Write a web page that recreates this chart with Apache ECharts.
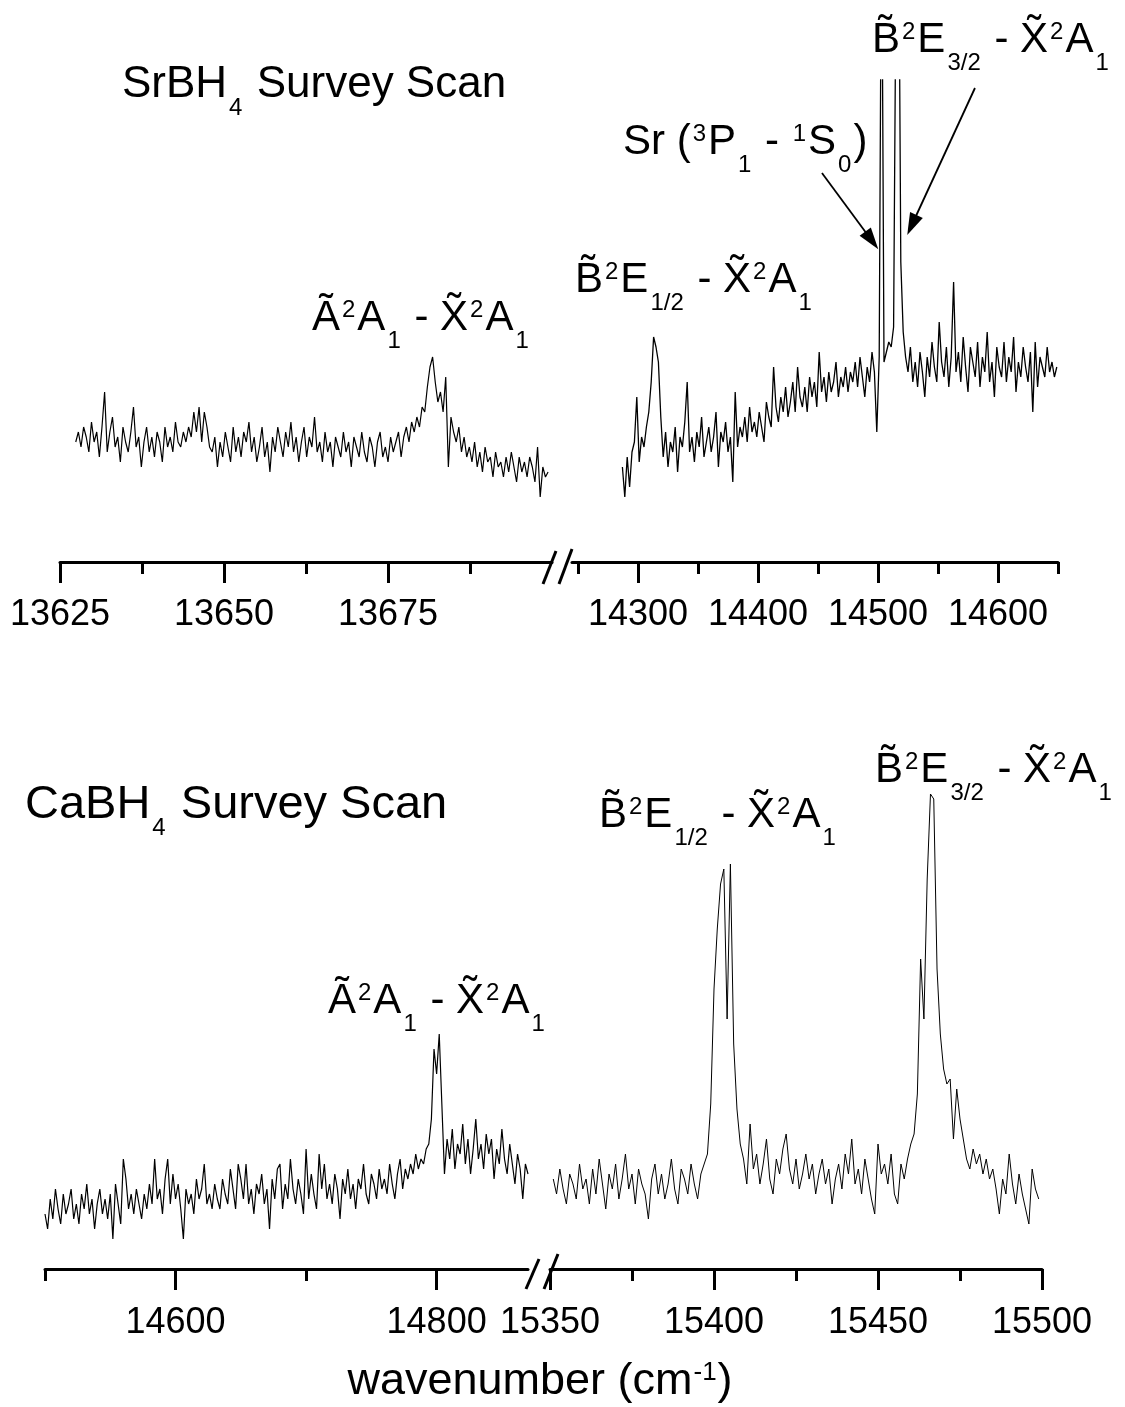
<!DOCTYPE html>
<html>
<head>
<meta charset="utf-8">
<title>SrBH4 and CaBH4 survey scans</title>
<script src="https://cdn.jsdelivr.net/npm/echarts@6/dist/echarts.min.js"></script>
<style>
  html, body { margin: 0; padding: 0; background: #fff; }
  #main { width: 1125px; height: 1407px; }
</style>
</head>
<body>
<div id="main"></div>
<script>
const FONT = "'Liberation Sans', Arial, Helvetica, sans-serif";

// SrBH4 survey, low segment (A - X band), scan start/step in cm-1
const srLowStart = 13627.4, srLowStep = 0.4;
const srLowValues = [
  24, 26, 23, 27, 25, 22, 28, 24, 26, 21,
  27, 34, 22, 26, 29, 23, 25, 20, 27, 24,
  22, 26, 31, 23, 25, 19, 24, 27, 22, 25,
  21, 26, 24, 20, 27, 23, 25, 22, 28, 24,
  23, 26, 24, 27, 25, 30, 26, 31, 24, 30,
  27, 23, 22, 25, 19, 24, 21, 26, 23, 20,
  27, 22, 25, 21, 26, 24, 28, 22, 25, 20,
  23, 27, 21, 24, 18, 25, 22, 27, 24, 21,
  26, 23, 28, 22, 25, 20, 24, 27, 21, 25,
  23, 29, 22, 24, 20, 26, 22, 24, 19, 25,
  23, 21, 26, 22, 24, 19, 25, 23, 21, 26,
  22, 20, 25, 23, 19, 24, 26, 21, 23, 20,
  25, 22, 24, 26, 21, 25, 27, 24, 28, 26,
  29, 27, 31, 30, 35, 39, 41, 36, 32, 34,
  30, 37, 19, 29, 26, 24, 27, 22, 25, 21,
  23, 20, 24, 19, 22, 18, 23, 20, 21, 17,
  22, 19, 20, 17, 21, 18, 22, 19, 16, 21,
  18, 20, 17, 21, 19, 16, 23, 13, 19, 17,
  18
];

// SrBH4 survey, high segment (B - X bands + Sr atomic line)
const srHighStart = 14287, srHighStep = 2;
const srHighValues = [
  19, 13, 21, 15, 22,
  24, 33, 20, 25, 23, 27, 30,
  36, 45, 43, 40, 29,
  21, 26, 19, 24, 22, 27, 18, 25, 23,
  28, 36, 22, 25, 20, 26, 23, 29, 21, 24,
  27, 22, 25, 30, 19, 26, 24, 28, 22, 25,
  16, 34, 23, 27, 25, 29, 24, 31, 26, 28,
  25, 30, 27, 24, 32, 29, 27, 39, 31, 28,
  33, 30, 35, 29, 32, 36, 30, 39, 33, 31,
  35, 30, 37, 33, 36, 31, 42, 34, 37, 32,
  38, 34, 36, 40, 33, 37, 35, 39, 34, 38,
  36, 40, 35, 41, 37, 33, 39, 36, 42, 38,
  26, 41, 135, 40, 42, 44, 43, 47, 118, 140, 60, 46, 41,
  38, 43, 36, 40, 35, 42, 38, 33, 41, 37,
  44, 39, 36, 48, 40, 37, 43, 35, 41, 56,
  38, 42, 36, 45, 39, 34, 43, 40, 37, 44,
  35, 41, 38, 46, 36, 40, 33, 43, 39, 37,
  44, 36, 41, 38, 45, 34, 40, 37, 43, 39,
  36, 42, 30, 44, 35, 41, 39, 37, 43, 38,
  40, 37, 39
];

// CaBH4 survey, low segment (A - X band)
const caLowStart = 14500, caLowStep = 2;
const caLowValues = [
  11, 8, 14, 10, 16, 12, 9, 15, 11, 13,
  16, 10, 13, 9, 15, 12, 17, 11, 14, 8,
  13, 16, 11, 14, 10, 15, 6, 17, 13, 9,
  22, 18, 12, 15, 11, 16, 13, 10, 15, 12,
  17, 13, 22, 14, 16, 11, 18, 22, 13, 19,
  14, 17, 12, 6, 16, 13, 15, 11, 18, 14,
  16, 21, 13, 15, 12, 17, 14, 12, 18, 15,
  13, 20, 16, 12, 21, 18, 14, 21, 13, 16,
  11, 17, 15, 19, 13, 16, 8, 18, 14, 20,
  21, 12, 17, 14, 22, 16, 13, 18, 15, 11,
  24, 14, 19, 15, 12, 23, 16, 21, 14, 17,
  13, 19, 16, 10, 18, 15, 20, 14, 17, 12,
  18, 16, 21, 15, 13, 19, 17, 14, 20, 16,
  18, 15, 21, 17, 14, 19, 22, 16, 20, 18,
  21, 19, 23, 20, 22, 21, 24, 25, 30, 44,
  39, 47, 33, 19, 26, 22, 28, 20, 25, 23,
  29, 21, 26, 19, 24, 30, 22, 25, 20, 27,
  23, 26, 18, 24, 21, 28, 22, 19, 25, 21,
  17, 23, 20, 14, 21, 19
];

// CaBH4 survey, high segment (B - X bands)
const caHighStart = 15351, caHighStep = 1;
const caHighValues = [
  18, 15, 20, 16, 13, 19, 17, 14, 21, 16,
  18, 13, 20, 15, 22, 17, 12, 19, 16, 21,
  14, 18, 23, 16, 19, 13, 20, 17, 15, 10,
  18, 21, 15, 19, 14, 17, 22, 16, 13, 20,
  18, 15, 21, 17, 14, 19,
  21, 23, 33, 56, 68, 77, 80, 50, 81, 45, 32, 25, 22, 17, 29,
  20, 23, 17, 21, 26, 18, 15, 22, 19, 24,
  27, 20, 17, 22, 16, 19, 23, 18, 21, 15,
  19, 22, 17, 20, 13, 18, 21, 16, 23, 19,
  26, 17, 20, 15, 22, 18, 14, 11, 25, 19,
  21, 17, 23, 15, 13, 21, 18,
  22, 25, 27, 35, 62, 50, 78, 95, 94, 60, 47, 40, 37, 38, 26, 36, 30, 26, 22, 20,
  24, 21, 23, 19, 22, 18, 20, 16, 11, 18,
  15, 23, 17, 13, 19, 15, 12, 9, 20, 16, 14
];

// tick positions of each axis segment
const srLowMajor = [13625, 13650, 13675];
const srLowMinor = [13637.5, 13662.5, 13687.5];
const srHighMajor = [14300, 14400, 14500, 14600];
const srHighMinor = [14250, 14350, 14450, 14550, 14650];
const caLowMajor = [14600, 14800];
const caLowMinor = [14500, 14700];
const caHighMajor = [15350, 15400, 15450, 15500];
const caHighMinor = [15375, 15425, 15475];

// arrows in the SrBH4 panel: [from, to] in (cm-1, intensity)
const srArrows = [
  [[14453.3, 77.8], [14494.8, 64.3]],
  [[14580.8, 94.8], [14528.2, 67.4]]
];

const toPairs = (start, step, vals) =>
  vals.map((v, i) => [+(start + i * step).toFixed(2), v]);

function mainAxis(grid, min, max, ticks, margin) {
  return {
    type: 'value', gridIndex: grid, min: min, max: max, position: 'bottom',
    axisLine: { onZero: false, lineStyle: { color: '#000', width: 3 } },
    axisTick: { customValues: ticks, length: 21, lineStyle: { color: '#000', width: 3 } },
    axisLabel: {
      customValues: ticks, margin: margin, fontSize: 36, fontFamily: FONT, color: '#000',
      showMinLabel: true, showMaxLabel: true,
      formatter: v => String(v)
    },
    splitLine: { show: false }
  };
}

function minorAxis(grid, min, max, ticks) {
  return {
    type: 'value', gridIndex: grid, min: min, max: max, position: 'bottom',
    axisLine: { show: false, onZero: false },
    axisTick: { customValues: ticks, length: 12, lineStyle: { color: '#000', width: 3 } },
    axisLabel: { show: false },
    splitLine: { show: false }
  };
}

function yAx(grid, max) {
  return { type: 'value', gridIndex: grid, min: 0, max: max, show: false };
}

function trace(xi, yi, data, width, extra) {
  return Object.assign({
    type: 'line', xAxisIndex: xi, yAxisIndex: yi, data: data,
    showSymbol: false, symbol: 'none', silent: true, clip: true,
    lineStyle: { color: '#000', width: width }
  }, extra || {});
}

// rich text styles for the spectroscopic labels
const base = { fontFamily: FONT, color: '#000' };
const rich = {
  m: Object.assign({ fontSize: 42, lineHeight: 70, verticalAlign: 'middle' }, base),
  ts: Object.assign({ fontSize: 44, lineHeight: 70, verticalAlign: 'middle' }, base),
  tc: Object.assign({ fontSize: 47, lineHeight: 70, verticalAlign: 'middle' }, base),
  sup: Object.assign({ fontSize: 24, lineHeight: 24, verticalAlign: 'top', padding: [15, 2, 0, 2] }, base),
  sub: Object.assign({ fontSize: 24, lineHeight: 24, verticalAlign: 'bottom', padding: [0, 2, 0, 2] }, base)
};

const T = '\u0303'; // combining tilde
const lblAX = '{m|\u00C3}{sup|2}{m|A}{sub|1}{m| - X' + T + '}{sup|2}{m|A}{sub|1}';
const lblB12 = '{m|B' + T + '}{sup|2}{m|E}{sub|1/2}{m| - X' + T + '}{sup|2}{m|A}{sub|1}';
const lblB32 = '{m|B' + T + '}{sup|2}{m|E}{sub|3/2}{m| - X' + T + '}{sup|2}{m|A}{sub|1}';
const lblSr = '{m|Sr (}{sup|3}{m|P}{sub|1}{m| - }{sup|1}{m|S}{sub|0}{m|)}';

// label: left x, text baseline y
function label(text, x, baseY, off) {
  return {
    type: 'text', x: x, y: baseY - (off || 50), silent: true,
    style: { text: text, rich: rich, align: 'left', verticalAlign: 'top' }
  };
}

function slash(x1, y1, x2, y2) {
  return {
    type: 'line', silent: true,
    shape: { x1: x1, y1: y1, x2: x2, y2: y2 },
    style: { stroke: '#000', lineWidth: 3 }
  };
}

const chart = echarts.init(document.getElementById('main'), null, { renderer: 'canvas' });

const option = {
  animation: false,
  backgroundColor: '#fff',
  grid: [
    { left: 60, width: 492, top: 80, height: 482 },
    { left: 572, width: 486, top: 80, height: 482 },
    { left: 45, width: 483, top: 769, height: 500 },
    { left: 550, width: 492, top: 769, height: 500 }
  ],
  xAxis: [
    mainAxis(0, 13625, 13700, srLowMajor, 35), minorAxis(0, 13625, 13700, srLowMinor),
    mainAxis(1, 14245, 14650, srHighMajor, 35), minorAxis(1, 14245, 14650, srHighMinor),
    mainAxis(2, 14500, 14870, caLowMajor, 36), minorAxis(2, 14500, 14870, caLowMinor),
    mainAxis(3, 15350, 15500, caHighMajor, 36), minorAxis(3, 15350, 15500, caHighMinor)
  ],
  yAxis: [yAx(0, 96.4), yAx(1, 96.4), yAx(2, 100), yAx(3, 100)],
  series: [
    trace(0, 0, toPairs(srLowStart, srLowStep, srLowValues), 1.2),
    trace(2, 1, toPairs(srHighStart, srHighStep, srHighValues), 1.3, {
      markLine: {
        silent: true,
        symbol: ['none', 'triangle'],
        label: { show: false },
        lineStyle: { color: '#000', width: 1.8, type: 'solid' },
        emphasis: { disabled: true },
        data: srArrows.map(a => [
          { coord: a[0], symbol: 'none' },
          { coord: a[1], symbol: 'triangle', symbolSize: [14, 22] }
        ])
      }
    }),
    trace(4, 2, toPairs(caLowStart, caLowStep, caLowValues), 1.2),
    trace(6, 3, toPairs(caHighStart, caHighStep, caHighValues), 1)
  ],
  graphic: [
    label('{ts|SrBH}{sub|4}{ts| Survey Scan}', 122, 101, 51),
    label(lblAX, 312, 333),
    label(lblB12, 575, 295),
    label(lblSr, 623, 157),
    label(lblB32, 872, 55),
    label('{tc|CaBH}{sub|4}{tc| Survey Scan}', 25, 822, 52),
    label(lblAX, 328, 1016),
    label(lblB12, 599, 830),
    label(lblB32, 875, 785),
    {
      type: 'text', x: 540, y: 1347, silent: true,
      style: {
        text: '{w|wavenumber (cm}{sup|-1}{w|)}', align: 'center', verticalAlign: 'top',
        rich: {
          w: Object.assign({ fontSize: 45, lineHeight: 70, verticalAlign: 'middle' }, base),
          sup: Object.assign({ fontSize: 26, lineHeight: 26, verticalAlign: 'top', padding: [13, 1, 0, 1] }, base)
        }
      }
    },
    slash(543, 584, 556, 551),
    slash(559, 584, 572, 549),
    slash(526, 1289, 539, 1259),
    slash(544, 1289, 558, 1254)
  ]
};

chart.setOption(option);
</script>
</body>
</html>
